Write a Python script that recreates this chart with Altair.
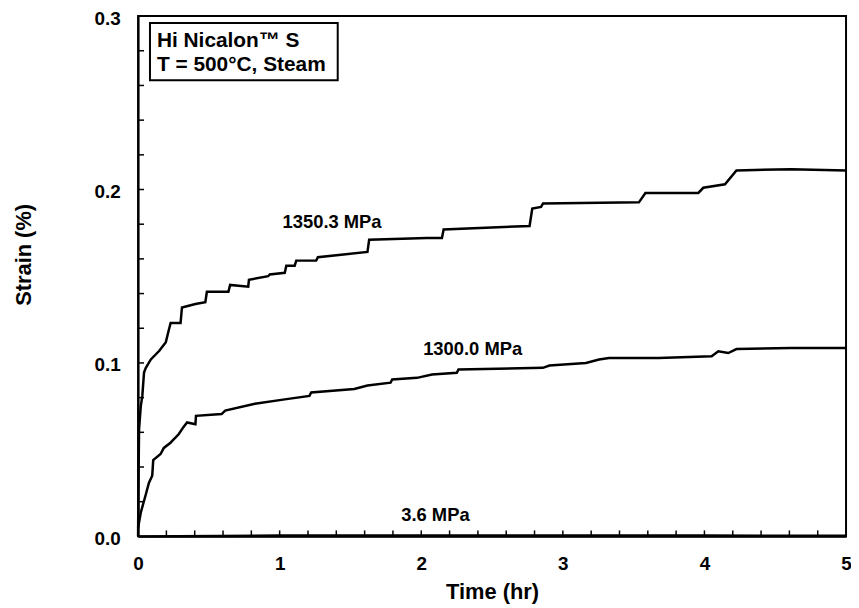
import altair as alt
import pandas as pd

# ---- data ----
t_1350 = [0.0, 0.004, 0.007, 0.019, 0.03, 0.042, 0.054, 0.09, 0.15, 0.196, 0.217, 0.23, 0.30, 0.31,
          0.405, 0.475, 0.486, 0.638, 0.65, 0.778, 0.783, 0.919, 0.93, 1.036, 1.047, 1.106, 1.117,
          1.258, 1.27, 1.62, 1.632, 2.04, 2.146, 2.158, 2.765, 2.784, 2.846, 2.86, 3.537, 3.583,
          3.957, 3.992, 4.145, 4.226, 4.612, 5.0]
s_1350 = [0.0, 0.04, 0.062, 0.075, 0.081, 0.0945, 0.097, 0.102, 0.107, 0.112, 0.119, 0.123, 0.123, 0.132,
          0.134, 0.135, 0.141, 0.141, 0.145, 0.144, 0.148, 0.150, 0.151, 0.152, 0.156, 0.156, 0.159,
          0.159, 0.161, 0.164, 0.171, 0.172, 0.172, 0.177, 0.179, 0.189, 0.190, 0.192, 0.1926, 0.198,
          0.198, 0.201, 0.203, 0.211, 0.2117, 0.211]

t_1300 = [0.0, 0.02, 0.054, 0.077, 0.10, 0.107, 0.159, 0.182, 0.229, 0.288, 0.32, 0.346, 0.405, 0.409,
          0.59, 0.615, 0.825, 1.036, 1.21, 1.223, 1.527, 1.62, 1.783, 1.795, 1.97, 2.076, 2.251, 2.263,
          2.859, 2.905, 3.163, 3.256, 3.326, 3.677, 4.051, 4.098, 4.168, 4.226, 4.612, 5.0]
s_1300 = [0.005, 0.014, 0.024, 0.031, 0.035, 0.044, 0.0475, 0.051, 0.054, 0.059, 0.063, 0.0657, 0.0647, 0.0695,
          0.0705, 0.0725, 0.0765, 0.079, 0.081, 0.083, 0.085, 0.087, 0.0886, 0.0905, 0.0914, 0.0933, 0.0943, 0.0962,
          0.0972, 0.0985, 0.100, 0.102, 0.1029, 0.1029, 0.1038, 0.1067, 0.1057, 0.108, 0.1086, 0.1086]

t_36 = [0.0, 1.0, 2.0, 3.0, 4.0, 5.0]
s_36 = [0.0, 0.0005, 0.0005, 0.0005, 0.0005, 0.0003]

label_text = ["1350.3 MPa", "1300.0 MPa", "3.6 MPa"]
label_t = [1.37, 2.363, 2.10]
label_s = [0.1815, 0.108, 0.0122]

box_lines = ["Hi Nicalon\u2122 S", "T = 500\u00b0C, Steam"]
box_line_t = [0.133, 0.133]
box_line_s = [0.2824, 0.2685]
box_t = [0.084, 1.41]
box_s = [0.263, 0.296]

y_minor = [0.02, 0.04, 0.06, 0.08, 0.10, 0.12, 0.14, 0.16, 0.18, 0.20, 0.22, 0.24, 0.26, 0.28]
x_minor = [0.2, 0.4, 0.6, 0.8, 1.0, 1.2, 1.4, 1.6, 1.8, 2.0, 2.2, 2.4, 2.6, 2.8, 3.0, 3.2,
           3.4, 3.6, 3.8, 4.0, 4.2, 4.4, 4.6, 4.8]

# ---- tables ----
curves = pd.concat([
    pd.DataFrame({"t": t_1350, "s": s_1350, "series": "1350.3 MPa"}),
    pd.DataFrame({"t": t_1300, "s": s_1300, "series": "1300.0 MPa"}),
    pd.DataFrame({"t": t_36, "s": s_36, "series": "3.6 MPa"}),
], ignore_index=True)
labels = pd.DataFrame({"text": label_text, "t": label_t, "s": label_s})
boxtxt = pd.DataFrame({"text": box_lines, "t": box_line_t, "s": box_line_s})
boxdf = pd.DataFrame({"t": [box_t[0]], "t2": [box_t[1]], "s": [box_s[0]], "s2": [box_s[1]]})
ytk = pd.DataFrame({"s": y_minor})
xtk = pd.DataFrame({"t": x_minor})

FONT = "Liberation Sans"
xscale = alt.Scale(domain=[0, 5], nice=False, zero=False)
yscale = alt.Scale(domain=[0, 0.3], nice=False, zero=False)

xaxis = alt.Axis(title="Time (hr)", values=[0, 1, 2, 3, 4, 5], format="d", grid=False,
                 ticks=False, tickSize=0, labelPadding=27, labelBaseline="middle",
                 labelFontSize=19, labelFontWeight="bold", labelFont=FONT, labelColor="black",
                 titleFontSize=22, titleFontWeight="bold", titleFont=FONT, titleColor="black",
                 titleY=56, titleBaseline="middle",
                 domainColor="black", domainWidth=2, labelFlush=False)
yaxis = alt.Axis(title="Strain (%)", values=[0, 0.1, 0.2, 0.3], format=".1f", grid=False,
                 ticks=False, tickSize=0, labelPadding=18, labelOffset=2,
                 labelFontSize=19, labelFontWeight="bold", labelFont=FONT, labelColor="black",
                 titleFontSize=22, titleFontWeight="bold", titleFont=FONT, titleColor="black",
                 titleX=-115, titleY=240, titleAngle=270, titleAlign="center", titleBaseline="middle",
                 domainColor="black", domainWidth=2, labelFlush=False)

lines = alt.Chart(curves).mark_line(color="black", strokeWidth=2.5, interpolate="linear").encode(
    x=alt.X("t:Q", scale=xscale, axis=xaxis),
    y=alt.Y("s:Q", scale=yscale, axis=yaxis),
    detail="series:N",
    order="t:Q",
)

ytick_layer = alt.Chart(ytk).mark_rule(color="black", strokeWidth=1.5).encode(
    y=alt.Y("s:Q", scale=yscale), x=alt.value(0), x2=alt.value(6))
xtick_layer = alt.Chart(xtk).mark_rule(color="black", strokeWidth=1.5).encode(
    x=alt.X("t:Q", scale=xscale), y=alt.value(524), y2=alt.value(518))

label_layer = alt.Chart(labels).mark_text(font=FONT, fontSize=18.5, fontWeight="bold",
                                          color="black", align="center", baseline="middle").encode(
    x=alt.X("t:Q", scale=xscale), y=alt.Y("s:Q", scale=yscale), text="text:N")

box_layer = alt.Chart(boxdf).mark_rect(fill="white", stroke="black", strokeWidth=2).encode(
    x=alt.X("t:Q", scale=xscale), x2="t2:Q", y=alt.Y("s:Q", scale=yscale), y2="s2:Q")

boxtxt_layer = alt.Chart(boxtxt).mark_text(font=FONT, fontSize=21, fontWeight="bold",
                                           color="black", align="left", baseline="alphabetic").encode(
    x=alt.X("t:Q", scale=xscale), y=alt.Y("s:Q", scale=yscale), text="text:N")

chart = alt.layer(lines, ytick_layer, xtick_layer, label_layer, box_layer, boxtxt_layer).properties(
    width=713, height=524,
    autosize=alt.AutoSizeParams(type="none"),
    padding={"left": 131, "top": 6, "right": 5, "bottom": 70},
    background="white",
).configure_view(stroke="black", strokeWidth=2)

chart.save("out.html", embed_options={"renderer": "svg", "actions": False})
